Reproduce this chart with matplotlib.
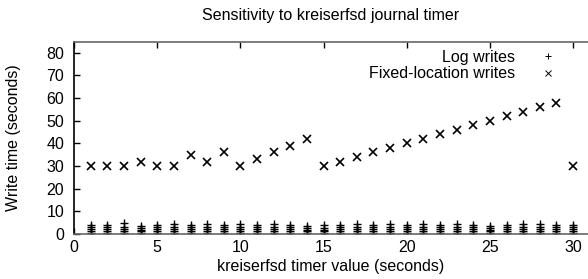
import matplotlib
matplotlib.use("Agg")
import matplotlib.pyplot as plt

timer_values = list(range(1, 31))

fixed_writes = [30, 30, 30, 32, 30, 30, 35, 32, 36, 30,
                33, 36, 39, 42, 30, 32, 34, 36, 38, 40,
                42, 44, 46, 48, 50, 52, 54, 56, 58, 30]

log_writes = [
    [0.5, 1.4, 2.3, 3.2, 4.2],
    [0.4, 1.2, 2.1, 3.0, 4.0],
    [0.5, 1.3, 2.2, 3.1, 5.0],
    [0.4, 1.2, 2.0, 2.8, 3.5],
    [0.5, 1.3, 2.2, 3.1, 4.0],
    [0.5, 1.4, 2.3, 3.2, 4.3],
    [0.4, 1.3, 2.2, 3.1, 4.0],
    [0.5, 1.4, 2.3, 3.3, 4.3],
    [0.4, 1.3, 2.2, 3.1, 4.0],
    [0.5, 1.4, 2.3, 3.3, 4.3],
    [0.4, 1.3, 2.1, 3.0, 4.0],
    [0.5, 1.4, 2.3, 3.3, 4.6],
    [0.4, 1.3, 2.2, 3.1, 4.0],
    [0.4, 1.2, 2.0, 2.8, 3.4],
    [0.4, 1.2, 2.0, 2.9, 3.8],
    [0.5, 1.4, 2.3, 3.2, 4.2],
    [0.5, 1.4, 2.3, 3.3, 4.5],
    [0.4, 1.3, 2.2, 3.1, 4.0],
    [0.5, 1.4, 2.3, 3.2, 4.3],
    [0.4, 1.3, 2.1, 3.0, 4.0],
    [0.5, 1.4, 2.3, 3.2, 4.3],
    [0.4, 1.3, 2.2, 3.1, 4.0],
    [0.5, 1.4, 2.3, 3.3, 4.5],
    [0.4, 1.3, 2.2, 3.1, 4.0],
    [0.4, 1.2, 2.0, 2.8, 3.5],
    [0.4, 1.3, 2.1, 3.0, 3.9],
    [0.5, 1.4, 2.3, 3.2, 4.3],
    [0.5, 1.4, 2.3, 3.3, 4.5],
    [0.4, 1.3, 2.2, 3.1, 4.1],
    [0.4, 1.3, 2.2, 3.1, 4.0],
]

x_ticks = [0, 5, 10, 15, 20, 25, 30]
y_ticks = [0, 10, 20, 30, 40, 50, 60, 70, 80]

plt.rcParams['font.family'] = ['Liberation Sans', 'DejaVu Sans']
fs = 11.5

fig = plt.figure(figsize=(5.88, 2.79), dpi=100)
ax = fig.add_axes([0.126, 0.161, 0.874, 0.689])

log_x = [x for x, ys in zip(timer_values, log_writes) for _ in ys]
log_y = [y for ys in log_writes for y in ys]

ax.plot(log_x, log_y, linestyle='none', marker='+', color='black',
        markersize=5.5, markeredgewidth=1.0, label='Log writes')
ax.plot(timer_values, fixed_writes, linestyle='none', marker='x', color='black',
        markersize=5.5, markeredgewidth=1.2, label='Fixed-location writes')

ax.set_xlim(0, 30.9)
ax.set_ylim(0, 84.8)
ax.set_xticks(x_ticks)
ax.set_yticks(y_ticks)
ax.tick_params(axis='both', direction='in', length=4, width=1.0, labelsize=fs,
               top=True, right=False, pad=7)
ax.tick_params(axis='x', pad=4)

ax.spines['right'].set_visible(False)
ax.spines['left'].set_color('black')
ax.spines['left'].set_linewidth(1.2)
for s in ('top', 'bottom'):
    ax.spines[s].set_color('#666666')
    ax.spines[s].set_linewidth(1.2)

ax.set_xlabel('kreiserfsd timer value (seconds)', fontsize=fs, labelpad=3)
ax.set_ylabel('Write time (seconds)', fontsize=fs, labelpad=18)
ax.set_title('Sensitivity to kreiserfsd journal timer', fontsize=fs, pad=16)

leg = ax.legend(loc='upper right', bbox_to_anchor=(0.96, 1.01), markerfirst=False,
                frameon=False, fontsize=fs, handlelength=1.2, handletextpad=1.5,
                labelspacing=0.1, borderaxespad=0.2)
for h in leg.legend_handles:
    h.set_markeredgewidth(0.7)
    h.set_markersize(5)

fig.savefig('out.png', dpi=100)
